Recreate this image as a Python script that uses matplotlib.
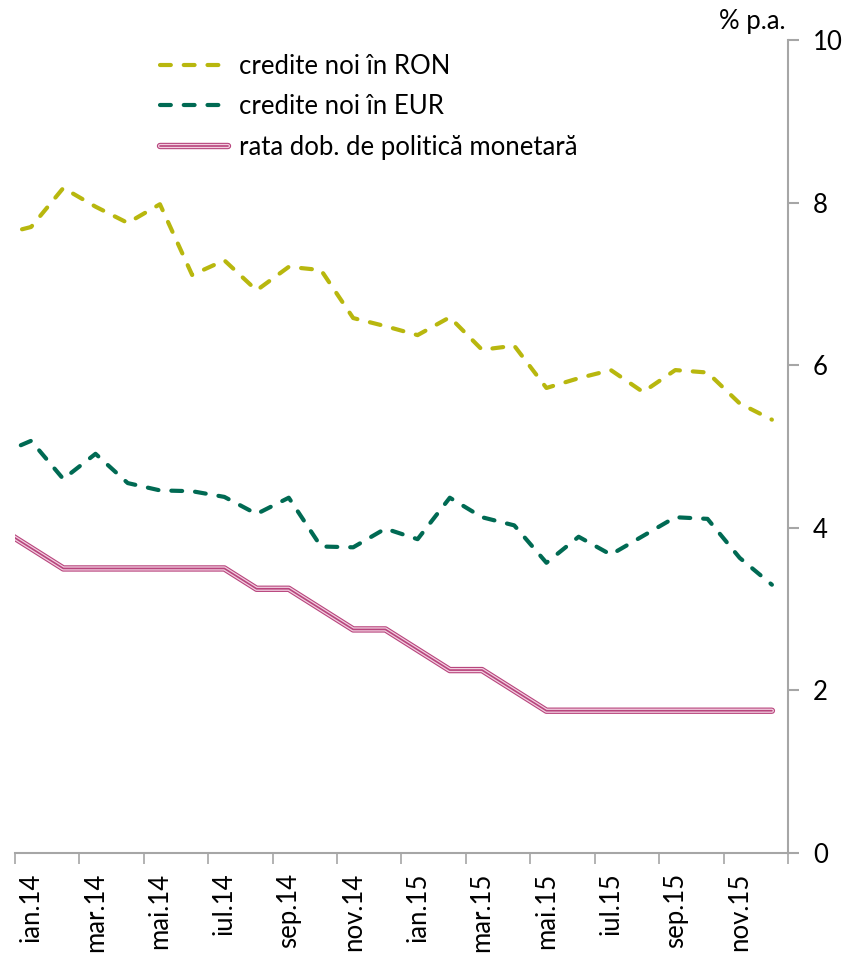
import matplotlib
matplotlib.use("Agg")
import matplotlib.pyplot as plt
import matplotlib.patheffects as pe
import numpy as np

plt.rcParams['font.family'] = ['Lato', 'DejaVu Sans']

# months: dec.13 (partly visible at left edge) .. dec.15
month_names = ["ian", "feb", "mar", "apr", "mai", "iun",
               "iul", "aug", "sep", "oct", "nov", "dec"]
labels = ["dec.13"] + [f"{m}.{y}" for y in ("14", "15") for m in month_names]

ron = [7.60,
       7.70, 8.18, 7.95, 7.75, 7.98, 7.11, 7.29, 6.92, 7.21, 7.17, 6.58, 6.48,
       6.37, 6.59, 6.19, 6.24, 5.72, 5.84, 5.94, 5.67, 5.94, 5.91, 5.53, 5.33]
eur = [4.90,
       5.07, 4.60, 4.91, 4.55, 4.46, 4.45, 4.38, 4.17, 4.37, 3.77, 3.76, 3.99,
       3.86, 4.37, 4.13, 4.03, 3.57, 3.89, 3.67, 3.90, 4.13, 4.11, 3.63, 3.30]
policy = [4.00,
          3.75, 3.50, 3.50, 3.50, 3.50, 3.50, 3.50, 3.25, 3.25, 3.00, 2.75, 2.75,
          2.50, 2.25, 2.25, 2.00, 1.75, 1.75, 1.75, 1.75, 1.75, 1.75, 1.75, 1.75]

series_names = ["credite noi în RON", "credite noi în EUR",
                "rata dob. de politică monetară"]

x = np.arange(len(labels)) - 1  # jan.14 at 0

fig = plt.figure(figsize=(8.52, 9.57), dpi=100)
ax = fig.add_axes([15 / 852, 104 / 957, 773 / 852, 813 / 957])

ron_color = "#B8B70E"
eur_color = "#006A53"
pink = "#B8457D"
FS = 18.5

ax.plot(x, ron, color=ron_color, lw=3.0, linestyle=(0, (2.6, 3.1)),
        dash_capstyle="round", label=series_names[0])
ax.plot(x, eur, color=eur_color, lw=3.0, linestyle=(0, (2.6, 3.1)),
        dash_capstyle="round", label=series_names[1])
ax.plot(x, policy, color=pink, lw=1.2, solid_capstyle="round",
        label=series_names[2],
        path_effects=[pe.Stroke(linewidth=4.6, foreground=pink, capstyle="round"),
                      pe.Stroke(linewidth=3.0, foreground="#F2CFE0"),
                      pe.Normal()])

ax.set_xlim(-0.5, 23.5)
ax.set_ylim(0, 10)

# y axis on the right
ax.yaxis.tick_right()
ax.set_yticks(np.arange(0, 11, 2))
ax.tick_params(axis="y", direction="out", length=8, width=1.5, color="#A6A6A6",
               labelsize=FS, pad=10)

# x axis: tick marks between every second category, labels on the category
ax.set_xticks(np.arange(-0.5, 24, 2))
ax.set_xticklabels([])
ax.tick_params(axis="x", which="major", direction="out", length=8, width=1.2,
               color="#A6A6A6")
ax.set_xticks(np.arange(0, 24, 2), minor=True)
ax.set_xticklabels(labels[1::2], minor=True, rotation=90, fontsize=FS)
ax.tick_params(axis="x", which="minor", length=0, pad=14)

for side in ("left", "top"):
    ax.spines[side].set_visible(False)
for side in ("right", "bottom"):
    ax.spines[side].set_color("#A6A6A6")
    ax.spines[side].set_linewidth(1.5)

fig.text(752 / 852, 1 - 22 / 957, "% p.a.", fontsize=FS, ha="center", va="center")

ax.legend(loc="upper left", bbox_to_anchor=(0.188, 0.983), frameon=False,
          fontsize=FS, handlelength=2.65, handletextpad=0.4, labelspacing=0.6,
          borderpad=0, borderaxespad=0)

fig.savefig("out.png", dpi=100)
